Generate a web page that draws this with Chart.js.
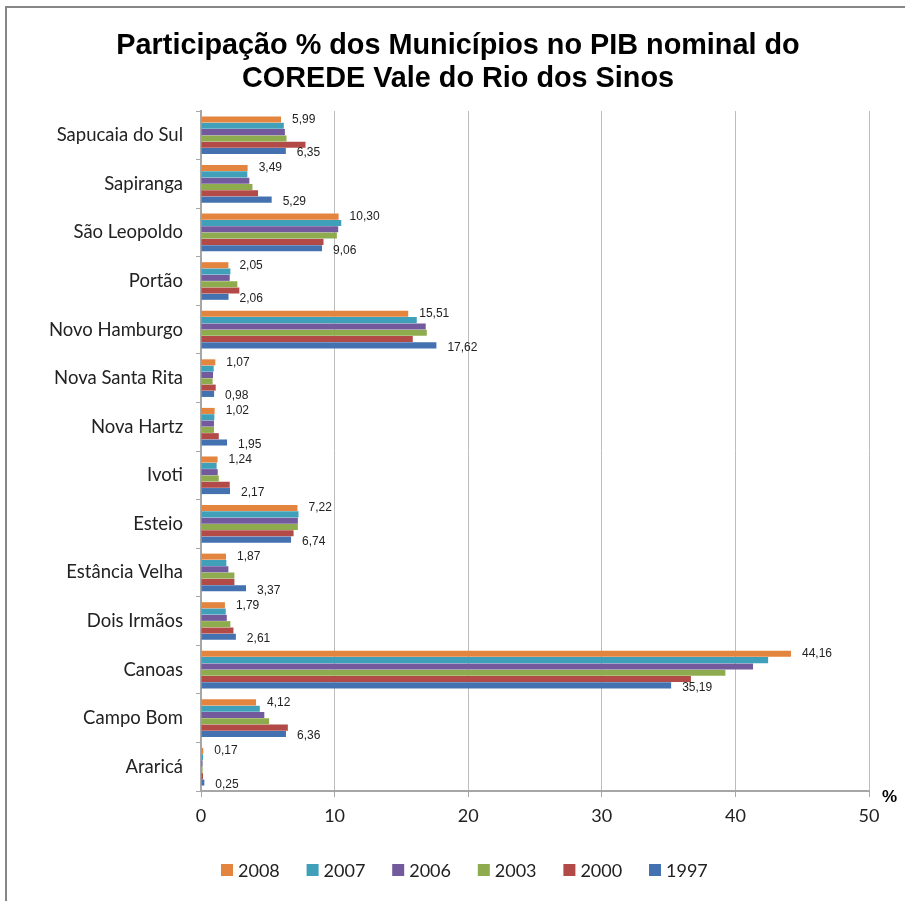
<!DOCTYPE html>
<html>
<head>
<meta charset="utf-8">
<script src="https://cdn.jsdelivr.net/npm/chart.js@4"></script>
<style>
html,body{margin:0;padding:0;background:#fff;}
#wrap{position:relative;width:905px;height:901px;}
</style>
</head>
<body>
<div id="wrap"><canvas id="c" width="905" height="901"></canvas></div>
<script>
const titleLines = ['Participação % dos Municípios no PIB nominal do', 'COREDE Vale do Rio dos Sinos'];
const categories = ['Sapucaia do Sul','Sapiranga','São Leopoldo','Portão','Novo Hamburgo','Nova Santa Rita','Nova Hartz','Ivoti','Esteio','Estância Velha','Dois Irmãos','Canoas','Campo Bom','Araricá'];
const seriesNames = ['2008','2007','2006','2003','2000','1997'];
const v2008 = [5.99, 3.49, 10.30, 2.05, 15.51, 1.07, 1.02, 1.24, 7.22, 1.87, 1.79, 44.16, 4.12, 0.17];
const v2007 = [6.20, 3.47, 10.50, 2.20, 16.15, 0.95, 1.00, 1.17, 7.30, 1.90, 1.85, 42.45, 4.40, 0.15];
const v2006 = [6.28, 3.62, 10.27, 2.15, 16.82, 0.90, 0.97, 1.25, 7.25, 2.05, 1.93, 41.32, 4.74, 0.12];
const v2003 = [6.40, 3.85, 10.17, 2.72, 16.90, 0.87, 0.97, 1.33, 7.25, 2.50, 2.20, 39.25, 5.10, 0.12];
const v2000 = [7.82, 4.27, 9.17, 2.87, 15.85, 1.10, 1.33, 2.15, 6.93, 2.50, 2.43, 36.67, 6.50, 0.15];
const v1997 = [6.35, 5.29, 9.06, 2.06, 17.62, 0.98, 1.95, 2.17, 6.74, 3.37, 2.61, 35.19, 6.36, 0.25];
const xTicks = [0, 10, 20, 30, 40, 50];
const axisUnit = '%';

const colors = ['#E3853F', '#40A0B9', '#735A9C', '#8EAC4E', '#B24A47', '#4472B0'];
const seriesValues = [v2008, v2007, v2006, v2003, v2000, v1997];
const labelledSeries = [0, 5];

const catFont = "'Lato', 'Open Sans', sans-serif";

const framePlugin = {
  id: 'frame',
  beforeDraw(chart) {
    const ctx = chart.ctx;
    ctx.save();
    ctx.fillStyle = '#ffffff';
    ctx.fillRect(0, 0, chart.width, chart.height);
    ctx.fillStyle = '#878787';
    ctx.fillRect(5, 6, chart.width - 5, 2);
    ctx.fillRect(5, 6, 2, chart.height - 6);
    ctx.restore();
  }
};

const decorPlugin = {
  id: 'decor',
  afterDraw(chart) {
    const ctx = chart.ctx;
    ctx.save();
    // title (condensed)
    ctx.fillStyle = '#000';
    ctx.font = "bold 30px 'Liberation Sans Narrow', 'Liberation Sans', Arial, sans-serif";
    ctx.textAlign = 'center';
    ctx.textBaseline = 'alphabetic';
    ctx.save();
    ctx.translate(458, 0);
    ctx.scale(0.96, 1);
    ctx.fillText(titleLines[0], 0, 54);
    ctx.fillText(titleLines[1], 0, 87);
    ctx.restore();
    // unit
    ctx.font = "bold 17px 'Liberation Sans', Arial, sans-serif";
    ctx.textAlign = 'left';
    ctx.fillText(axisUnit, 882, 802);
    // data labels
    ctx.font = "12px 'Liberation Sans', Arial, sans-serif";
    ctx.fillStyle = '#222';
    ctx.textBaseline = 'middle';
    labelledSeries.forEach(di => {
      const meta = chart.getDatasetMeta(di);
      meta.data.forEach((bar, i) => {
        const v = chart.data.datasets[di].data[i];
        const txt = v.toFixed(2).replace('.', ',');
        const dy = di === 0 ? 0 : 2;
        ctx.fillText(txt, bar.x + 11, bar.y + dy);
      });
    });
    // legend
    const items = chart.data.datasets;
    const step = 85.6;
    ctx.font = "18px " + catFont;
    ctx.textBaseline = 'middle';
    items.forEach((ds, i) => {
      const bx = 221 + i * step;
      ctx.fillStyle = ds.backgroundColor;
      ctx.fillRect(bx, 864, 12, 12);
      ctx.fillStyle = '#222';
      ctx.fillText(ds.label, bx + 17, 871);
    });
    ctx.restore();
  }
};

new Chart(document.getElementById('c'), {
  type: 'bar',
  data: {
    labels: categories,
    datasets: seriesNames.map((name, i) => ({
      label: name,
      data: seriesValues[i],
      backgroundColor: colors[i],
      borderWidth: 0,
      categoryPercentage: 0.78,
      barPercentage: 0.96
    }))
  },
  options: {
    indexAxis: 'y',
    responsive: false,
    animation: false,
    layout: { padding: { top: 111, right: 36, bottom: 65, left: 0 } },
    plugins: {
      legend: { display: false },
      title: { display: false },
      tooltip: { enabled: false }
    },
    scales: {
      x: {
        min: 0, max: 50,
        afterBuildTicks(scale) { scale.ticks = xTicks.map(v => ({ value: v })); },
        afterFit(scale) { scale.height = 45; },
        grid: { color: '#BDBDBD', lineWidth: 1, tickLength: 6, tickColor: '#A6A6A6', drawTicks: true },
        border: { color: '#A6A6A6', width: 2 },
        ticks: { font: { family: catFont, size: 18 }, color: '#222', padding: 8, maxRotation: 0 }
      },
      y: {
        afterFit(scale) { scale.width = 201; },
        grid: { drawOnChartArea: false, offset: true, tickLength: 5, color: '#A6A6A6' },
        border: { color: '#A6A6A6', width: 2 },
        ticks: { font: { family: catFont, size: 18.5 }, color: '#222', padding: 13 }
      }
    }
  },
  plugins: [framePlugin, decorPlugin]
});
</script>
</body>
</html>
